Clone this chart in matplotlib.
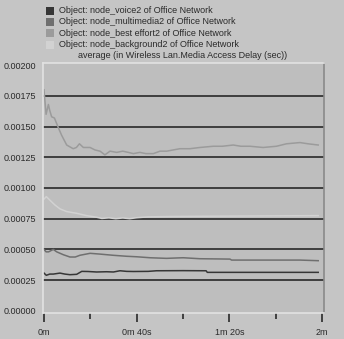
import matplotlib
matplotlib.use("Agg")
import matplotlib.pyplot as plt
from matplotlib.patches import Rectangle
from matplotlib.ticker import FixedLocator

# ---- data (time in seconds, delay in seconds) ----
series_names = [
    "Object: node_voice2 of Office Network",
    "Object: node_multimedia2 of Office Network",
    "Object: node_best effort2 of Office Network",
    "Object: node_background2 of Office Network",
]
chart_title = "average (in Wireless Lan.Media Access Delay (sec))"

voice_t = [0, 1, 2.5, 4, 6.9, 9, 11.2, 14.1, 16.3, 19, 22.7, 27, 30, 32.8, 35.7,
           38.6, 45, 48.6, 60, 70, 70.5, 118.4]
voice_v = [0.000307, 0.000289, 0.000299, 0.000299, 0.000307, 0.000299, 0.000294,
           0.000297, 0.000321, 0.000320, 0.000316, 0.000318, 0.000316, 0.000326,
           0.000321, 0.000320, 0.000321, 0.000326, 0.000327, 0.000326, 0.000313,
           0.000313]

mm_t = [0, 0.9, 2, 3, 4, 5.5, 8.3, 11.2, 13.5, 15.5, 19.9, 24, 29.9, 35.7, 40,
        45.8, 52.9, 57, 60.1, 67.3, 80.3, 81, 110.5, 118.4]
mm_v = [0.00050, 0.00048, 0.00048, 0.00049, 0.00050, 0.00048, 0.000457, 0.000438,
        0.000438, 0.000452, 0.000468, 0.000462, 0.000452, 0.000444, 0.00044,
        0.000432, 0.000427, 0.00043, 0.000432, 0.000424, 0.000421, 0.000413,
        0.000413, 0.000408]

be_t = [0, 0.9, 1.9, 2.5, 3.3, 4.5, 6.0, 7.6, 9.8, 12.6, 14.0, 15.3, 17.0, 19.9,
        22.0, 24.2, 26.3, 28.5, 31.4, 34, 36.4, 38.6, 41.4, 44, 47.2, 50.1, 53,
        55.8, 58.7, 63, 67.3, 73.1, 77, 81.7, 85, 88.9, 94.6, 100.4, 104.7, 110.5,
        114, 118.4]
be_v = [0.00180, 0.00160, 0.00168, 0.00163, 0.00158, 0.00157, 0.00150, 0.00143,
        0.00135, 0.00132, 0.00133, 0.00136, 0.00133, 0.00133, 0.00131, 0.00130,
        0.00127, 0.00130, 0.00129, 0.00130, 0.00129, 0.00128, 0.00129, 0.00128,
        0.00128, 0.00130, 0.00130, 0.00131, 0.00132, 0.00132, 0.00133, 0.00134,
        0.00134, 0.00135, 0.00134, 0.00134, 0.00133, 0.00134, 0.00136, 0.00137,
        0.00136, 0.00135]

bg_t = [0, 1, 2.6, 4.7, 6.9, 9.8, 14.1, 18.4, 22.7, 25, 28, 31, 34, 37, 40, 45,
        55, 70, 90, 118.4]
bg_v = [0.00091, 0.00093, 0.00090, 0.000862, 0.00083, 0.000808, 0.000794,
        0.000775, 0.000762, 0.000752, 0.000757, 0.00075, 0.000756, 0.00075,
        0.000758, 0.000765, 0.000768, 0.00077, 0.000772, 0.000775]

y_ticks = [0.0, 0.00025, 0.0005, 0.00075, 0.001, 0.00125, 0.0015, 0.00175, 0.002]
y_labels = ["0.00000", "0.00025", "0.00050", "0.00075", "0.00100", "0.00125",
            "0.00150", "0.00175", "0.00200"]
x_ticks = [0, 40, 80, 120]
x_labels = ["0m", "0m 40s", "1m 20s", "2m"]
x_minor = [20, 60, 100]

colors = ["#363636", "#6f6f6f", "#9b9b9b", "#d2d2d2"]

# ---- figure ----
plt.rcParams['font.family'] = ['Liberation Sans', 'DejaVu Sans']
W, H = 344, 339
fig = plt.figure(figsize=(W / 100, H / 100), dpi=100, facecolor="#c5c5c5")
ax = fig.add_axes([43 / W, 1 - 313 / H, (324 - 43) / W, (313 - 63) / H],
                  facecolor="#bebebe")

ax.set_xlim(-0.43, 120.9)
ax.set_ylim(-0.000018, 0.002018)

# grid lines
for yv in y_ticks[1:-1]:
    ax.axhline(yv, color="#343434", lw=1.3, zorder=1)

for t, v, c in zip([voice_t, mm_t, be_t, bg_t], [voice_v, mm_v, be_v, bg_v], colors):
    ax.plot(t, v, color=c, lw=1.1, zorder=2)

ax.set_yticks(y_ticks)
ax.set_yticklabels(y_labels)
ax.set_xticks(x_ticks)
ax.set_xticklabels(x_labels)
ax.xaxis.set_minor_locator(FixedLocator(x_minor))
ax.tick_params(axis="y", length=0, pad=5, labelsize=6.5, labelcolor="#2a2a2a")
ax.tick_params(axis="x", which="major", length=6.5, width=1.2, color="#2a2a2a",
               pad=4, labelsize=6.5, labelcolor="#2a2a2a")
ax.tick_params(axis="x", which="minor", length=4, width=1.2, color="#2a2a2a")

for side in ["left", "top", "bottom"]:
    ax.spines[side].set_color("#e2e2e2")
    ax.spines[side].set_linewidth(1.2)
ax.spines["right"].set_color("#8a8a8a")
ax.spines["right"].set_linewidth(1.2)

# legend (manual, figure pixel coordinates)
rows_y = [10.7, 22, 33.3, 44.7]
for name, c, yy in zip(series_names, colors, rows_y):
    fig.patches.append(Rectangle((46 / W, 1 - (yy + 4) / H), 8 / W, 8 / H,
                                 transform=fig.transFigure, facecolor=c,
                                 edgecolor="none"))
    fig.text(59 / W, 1 - yy / H, name, fontsize=6.5, color="#2a2a2a",
             va="center", ha="left")
fig.text(183 / W, 1 - 56 / H, chart_title, fontsize=6.5, color="#2a2a2a",
         va="center", ha="center")

fig.savefig("out.png", dpi=100, facecolor=fig.get_facecolor())
